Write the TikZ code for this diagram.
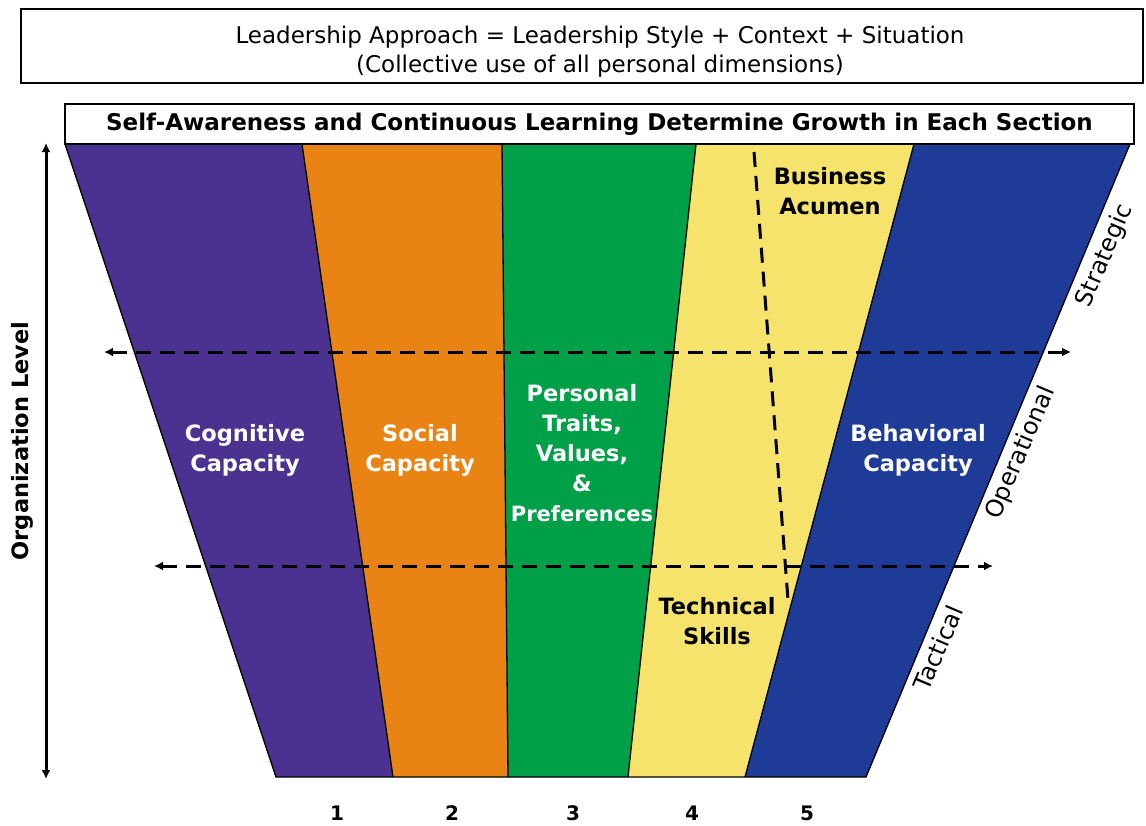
\documentclass[tikz,border=0pt]{standalone}
\usepackage{fontspec}
\setmainfont{DejaVu Sans}
\usetikzlibrary{arrows.meta}
\definecolor{bandpurple}{HTML}{4B3290}
\definecolor{bandorange}{HTML}{E98313}
\definecolor{bandgreen}{HTML}{00A048}
\definecolor{bandyellow}{HTML}{F6E36C}
\definecolor{bandblue}{HTML}{1F3B98}
\tikzset{
  band/.style={draw=black, line width=1.3pt},
  headbox/.style={draw=black, line width=1.6pt, fill=white, inner sep=0pt},
  lbl/.style={font=\bfseries\fontsize{22.5}{30}\selectfont, align=center, inner sep=0pt},
  lvl/.style={font=\fontsize{24}{28}\selectfont, inner sep=0pt},
  num/.style={font=\bfseries\fontsize{20}{24}\selectfont, inner sep=0pt},
  levelline/.style={line width=3pt, dash pattern=on 15pt off 9pt, {Latex[length=9pt,width=9pt]}-{Latex[length=9pt,width=9pt]}},
  axisline/.style={line width=3pt, {Latex[length=9pt,width=9pt]}-{Latex[length=9pt,width=9pt]}},
  splitline/.style={line width=3pt, dash pattern=on 15pt off 9pt},
}
\begin{document}
\begin{tikzpicture}[x=1pt, y=-1pt]
\useasboundingbox (0,0) rectangle (1146,825);

% corner points of the five bands (top row and bottom row)
\foreach \n/\x in {0/65, 1/302, 2/502, 3/696, 4/914, 5/1130}
  \coordinate (t\n) at (\x,144);
\foreach \n/\x in {0/276, 1/393, 2/508, 3/628, 4/745, 5/866}
  \coordinate (b\n) at (\x,777);

% bands
\fill[bandpurple] (t0) -- (t1) -- (b1) -- (b0) -- cycle;
\fill[bandorange] (t1) -- (t2) -- (b2) -- (b1) -- cycle;
\fill[bandgreen]  (t2) -- (t3) -- (b3) -- (b2) -- cycle;
\fill[bandyellow] (t3) -- (t4) -- (b4) -- (b3) -- cycle;
\fill[bandblue]   (t4) -- (t5) -- (b5) -- (b4) -- cycle;
\draw[band] (t0) -- (b0) -- (b5) -- (t5);
\foreach \n in {1,...,4} \draw[band] (t\n) -- (b\n);

% header boxes
\node[headbox, minimum width=1122pt, minimum height=74pt] (approachbox) at (582,46) {};
\node[font=\fontsize{23}{29}\selectfont, align=center, inner sep=0pt] (approach) at (600,52)
  {Leadership Approach = Leadership Style + Context + Situation\\(Collective use of all personal dimensions)};
\node[headbox, minimum width=1069pt, minimum height=40pt,
      font=\bfseries\fontsize{23}{26}\selectfont] (growth) at (599.5,124)
  {Self-Awareness and Continuous Learning Determine Growth in Each Section};

% split between technical skills and business acumen
\coordinate (splittop) at (754,152);
\coordinate (splitbot) at (788,600);
\draw[splitline] (splittop) -- (splitbot);

% organisation level boundaries
\coordinate (upL) at (104,352);
\coordinate (upR) at (1071,352);
\coordinate (loL) at (154,566);
\coordinate (loR) at (993,566);
\draw[levelline] (upL) -- (upR);
\draw[levelline] (loL) -- (loR);

% vertical axis
\coordinate (axtop) at (46,143);
\coordinate (axbot) at (46,779);
\draw[axisline] (axtop) -- (axbot);
\node[lbl, rotate=90] (orglevel) at (22,441) {Organization Level};

% band labels
\node[lbl, text=white] (cognitive) at (245,450) {Cognitive\\Capacity};
\node[lbl, text=white] (social) at (420,450) {Social\\Capacity};
\node[lbl, text=white] (personal) at (582,453) {Personal\\Traits,\\Values,\\\&\\{\fontsize{21}{30}\selectfont Preferences}};
\node[lbl, text=black] (business) at (830,191) {Business\\Acumen};
\node[lbl, text=black] (technical) at (717,621) {Technical\\Skills};
\node[lbl, text=white] (behavioral) at (918,450) {Behavioral\\Capacity};

% level names along the right edge
\node[lvl, rotate=67] (strategic) at (1105,256) {Strategic};
\node[lvl, rotate=67] (operational) at (1021,453) {Operational};
\node[lvl, rotate=67] (tactical) at (938,648) {Tactical};

% band numbers
\foreach \n/\x in {1/337, 2/452, 3/573, 4/692, 5/807}
  \node[num] (n\n) at (\x,813) {\n};
\end{tikzpicture}
\end{document}
